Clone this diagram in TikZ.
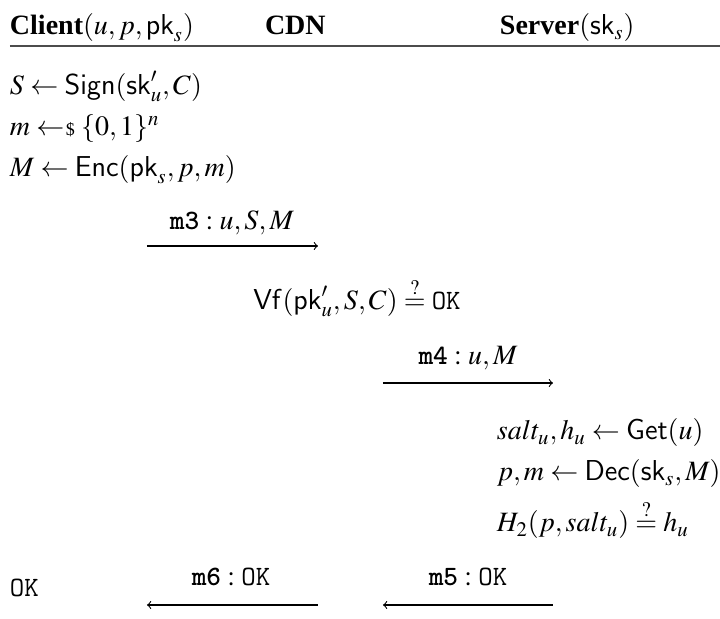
\documentclass[tikz,border=0pt]{standalone}
\usepackage{mathptmx}
\usepackage{fontspec}
\setmainfont{Liberation Serif}
\newfontfamily\mboldfont{lmmonolt10-bold.otf}
\newcommand{\OKt}{\mbox{\ttfamily OK}}
\newcommand{\msgn}[1]{\mbox{\mboldfont #1}}
\newcommand{\sampl}{\mathrel{\leftarrow\mkern-3mu\mbox{\fontsize{9}{10}\selectfont\$}}}
\begin{document}
\begin{tikzpicture}[x=0.5pt,y=-0.5pt,
  txt/.style={inner sep=0pt, outer sep=0pt, anchor=base west, font=\fontsize{14}{17}\selectfont},
  lbl/.style={inner sep=0pt, outer sep=0pt, anchor=base, font=\fontsize{14}{17}\selectfont},
  msgarrow/.style={line width=0.55pt, -to},
  rulebar/.style={line width=1.1pt, draw=black!70}]
\useasboundingbox (0,0) rectangle (720,619);
% header
\node[txt] (hc) at (10,35) {\textbf{Client}$(u,p,\mathsf{pk}_s)$};
\node[txt] (hd) at (265,35) {\textbf{CDN}};
\node[txt] (hs) at (500,35) {\textbf{Server}$(\mathsf{sk}_s)$};
\coordinate (rl) at (10,46);
\coordinate (rr) at (720,46);
\draw[rulebar] (rl) -- (rr);
% client computations
\node[txt] (c1) at (10,95) {$S \leftarrow \mathsf{Sign}(\mathsf{sk}'_u, C)$};
\node[txt] (c2) at (10,136) {$m \sampl \{0,1\}^n$};
\node[txt] (c3) at (10,177) {$M \leftarrow \mathsf{Enc}(\mathsf{pk}_s, p, m)$};
% m3
\node[lbl] (l3) at (232,230) {$\msgn{m3}: u, S, M$};
\coordinate (a3s) at (147,246);
\coordinate (a3e) at (318,246);
\draw[msgarrow] (a3s) -- (a3e);
% CDN check
\node[lbl] (vf) at (357,310) {$\mathsf{Vf}(\mathsf{pk}'_u, S, C) \stackrel{?}{=} \OKt$};
% m4
\node[lbl] (l4) at (468,365) {$\msgn{m4}: u, M$};
\coordinate (a4s) at (383,383);
\coordinate (a4e) at (553,383);
\draw[msgarrow] (a4s) -- (a4e);
% server computations
\node[txt] (s1) at (497,440) {$salt_u, h_u \leftarrow \mathsf{Get}(u)$};
\node[txt] (s2) at (497,481) {$p, m \leftarrow \mathsf{Dec}(\mathsf{sk}_s, M)$};
\node[txt] (s3) at (497,532) {$H_2(p, salt_u) \stackrel{?}{=} h_u$};
% m5, m6
\node[lbl] (l5) at (468,586) {$\msgn{m5}: \OKt$};
\coordinate (a5s) at (553,605);
\coordinate (a5e) at (383,605);
\draw[msgarrow] (a5s) -- (a5e);
\node[lbl] (l6) at (231,586) {$\msgn{m6}: \OKt$};
\coordinate (a6s) at (318,605);
\coordinate (a6e) at (147,605);
\draw[msgarrow] (a6s) -- (a6e);
\node[txt] (ok) at (10,597) {\ttfamily OK};
\end{tikzpicture}
\end{document}
